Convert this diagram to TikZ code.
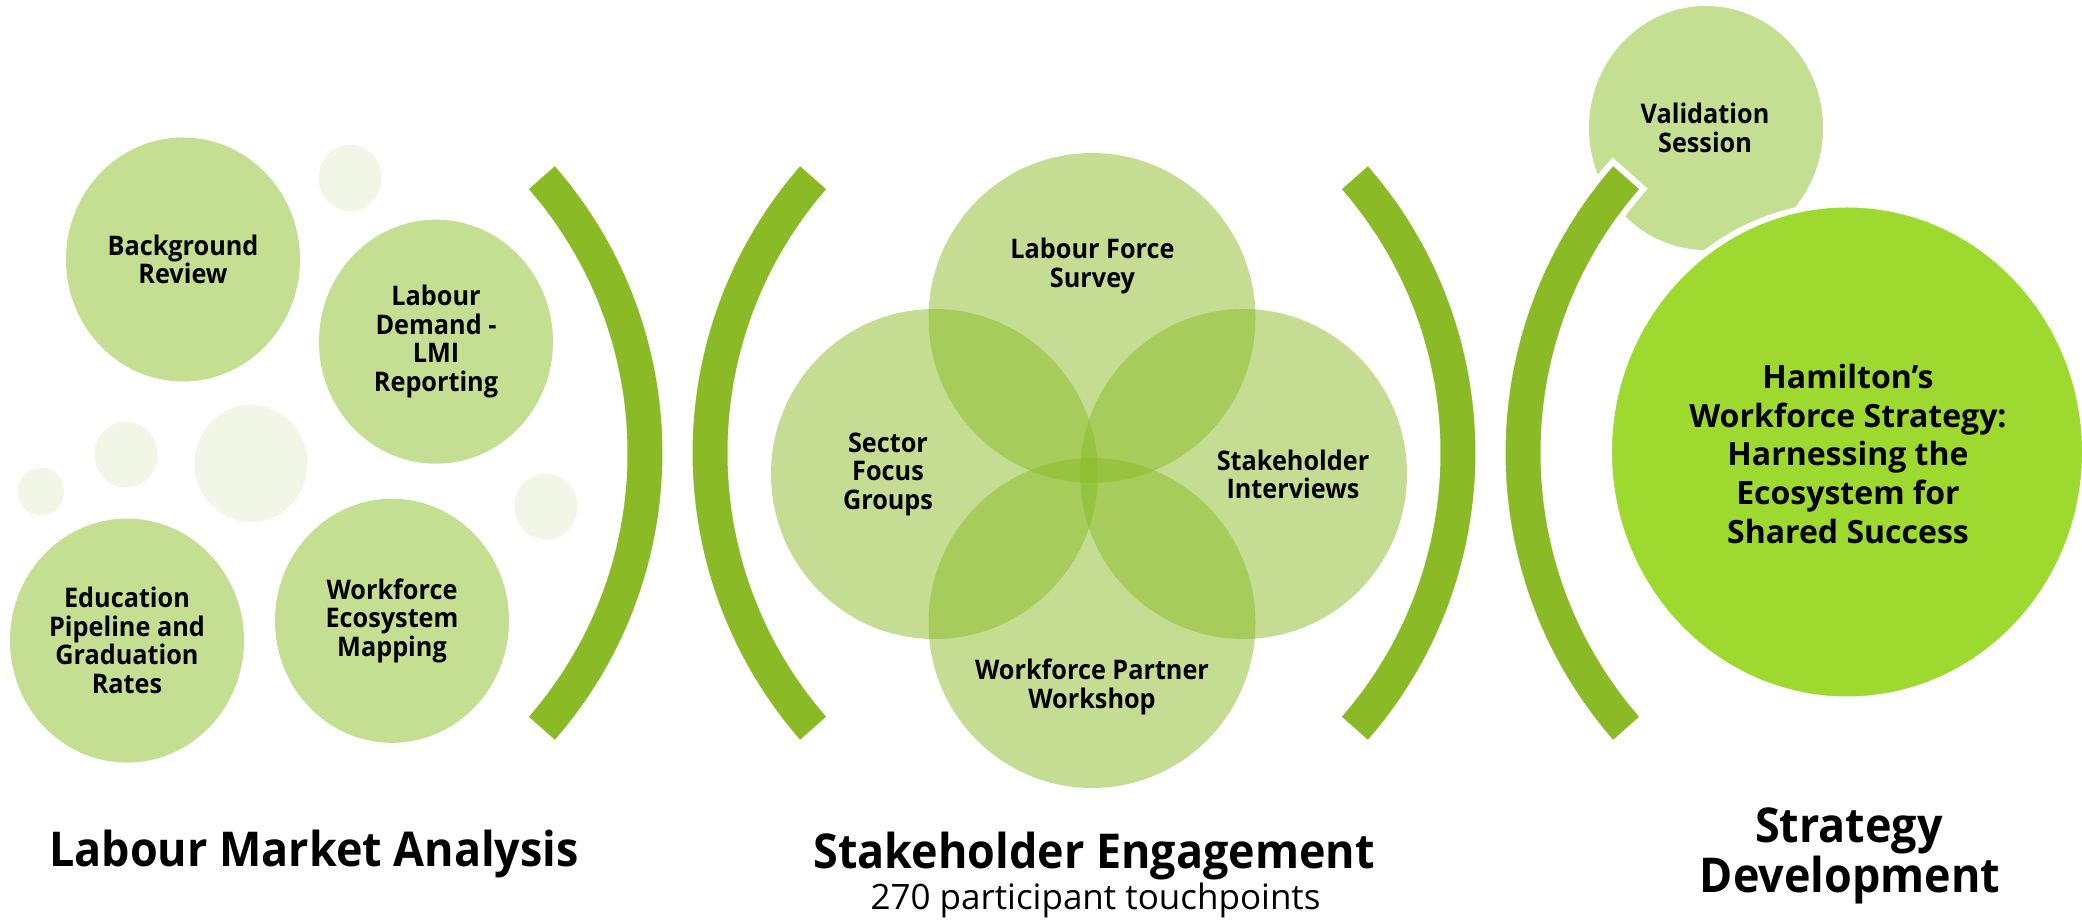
\documentclass[tikz,border=0pt]{standalone}
\usepackage{fontspec}
\setmainfont{Open Sans}[FakeStretch=0.935]
\newfontfamily\plainfont{Open Sans}
\usetikzlibrary{shapes.geometric}
\definecolor{arcgreen}{RGB}{138,187,38}
\definecolor{softgreen}{RGB}{196,222,146}
\definecolor{palegreen}{RGB}{241,246,231}
\definecolor{limegreen}{RGB}{157,217,46}
\begin{document}
\begin{tikzpicture}[x=1pt,y=1pt,
  bub/.style={ellipse, fill=softgreen, minimum width=234pt, minimum height=244pt, inner sep=0pt},
  dot/.style={ellipse, fill=palegreen, inner sep=0pt},
  venn/.style={ellipse, fill=arcgreen, fill opacity=0.5, minimum width=327pt, minimum height=330pt, inner sep=0pt},
  band/.style={fill=arcgreen, draw=white, line width=6pt},
  lbl/.style={font=\bfseries\fontsize{27}{28.5}\selectfont, align=center, text=black, inner sep=0pt},
  biglbl/.style={font=\plainfont\bfseries\fontsize{32}{38.7}\selectfont, align=center, text=black, inner sep=0pt},
  ttl/.style={font=\bfseries\fontsize{48}{50}\selectfont, align=center, text=black, inner sep=0pt, anchor=base},
  sub/.style={font=\plainfont\fontsize{35}{40}\selectfont, text=black, inner sep=0pt, anchor=base}
]
\useasboundingbox (0,0) rectangle (2082,923);

% left group: decorative dots
\node[dot, minimum width=63pt, minimum height=66pt] (d1) at (350,745) {};
\node[dot, minimum width=63pt, minimum height=66pt] (d2) at (126,468.5) {};
\node[dot, minimum width=113pt, minimum height=117pt] (d3) at (251,459.5) {};
\node[dot, minimum width=46pt, minimum height=48pt] (d4) at (41,431.5) {};
\node[dot, minimum width=63pt, minimum height=66pt] (d5) at (546,416.3) {};

% left group: bubbles
\node[bub] (bg) at (183,663.5) {};
\node[bub] (ld) at (436,581.3) {};
\node[bub] (ed) at (127,282.4) {};
\node[bub] (we) at (392,302.2) {};
\node[lbl] (bgt) at (bg) {Background\\Review};
\node[lbl] (ldt) at (ld) {Labour\\Demand -\\LMI\\Reporting};
\node[lbl] (edt) at (ed) {Education\\Pipeline and\\Graduation\\Rates};
\node[lbl] (wet) at (we) {Workforce\\Ecosystem\\Mapping};

% arcs
\filldraw[band] (226,470) ++(-41.5:439.5) arc[start angle=-41.5, end angle=41.5, radius=439.5] -- ++(221.5:41) arc[start angle=41.5, end angle=-41.5, radius=398.5] -- cycle;
\filldraw[band] (1129,470) ++(138.5:439.5) arc[start angle=138.5, end angle=221.5, radius=439.5] -- ++(41.5:41) arc[start angle=221.5, end angle=138.5, radius=398.5] -- cycle;
\filldraw[band] (1039,470) ++(-41.5:439.5) arc[start angle=-41.5, end angle=41.5, radius=439.5] -- ++(221.5:41) arc[start angle=41.5, end angle=-41.5, radius=398.5] -- cycle;

% middle group: venn
\node[venn] (lf) at (1092,605) {};
\node[venn] (sf) at (934.5,449) {};
\node[venn] (sh) at (1243.5,449) {};
\node[venn] (wp) at (1092,300) {};
\node[lbl] (lft) at (1092.5,657) {Labour Force\\Survey};
\node[lbl] (sft) at (888,449) {Sector\\Focus\\Groups};
\node[lbl] (sht) at (1293,448.5) {Stakeholder\\Interviews};
\node[lbl] (wpt) at (1092,236) {Workforce Partner\\Workshop};

% right group
\node[bub] (vs) at (1706,795) {};
\node[lbl] (vst) at (1705,795) {Validation\\Session};
\node[ellipse, fill=limegreen, draw=white, line width=6pt, minimum width=476pt, minimum height=495pt, inner sep=0pt] (hw) at (1847,471) {};
\node[biglbl] (hwt) at (1848,469) {Hamilton’s\\Workforce Strategy:\\Harnessing the\\Ecosystem for\\Shared Success};
\filldraw[band] (1942,470) ++(138.5:439.5) arc[start angle=138.5, end angle=221.5, radius=439.5] -- ++(41.5:41) arc[start angle=221.5, end angle=138.5, radius=398.5] -- cycle;

% titles
\node[ttl] (t1) at (314,56) {Labour Market Analysis};
\node[ttl] (t2) at (1094,54) {Stakeholder Engagement};
\node[sub] (t2s) at (1095.5,13) {270 participant touchpoints};
\node[ttl] (t3a) at (1849,80) {Strategy};
\node[ttl] (t3b) at (1850,30) {Development};
\end{tikzpicture}
\end{document}
